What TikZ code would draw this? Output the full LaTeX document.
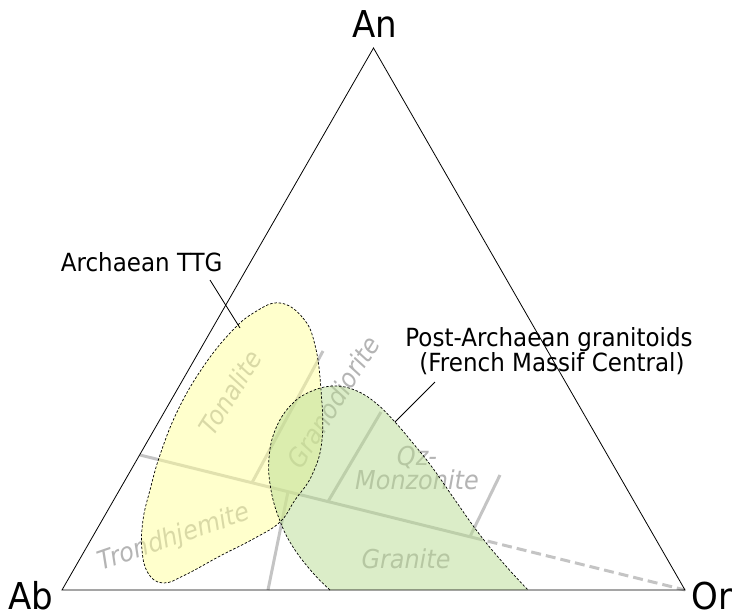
\documentclass[tikz,border=0pt]{standalone}
\usepackage{fontspec}
\setmainfont{DejaVu Sans}[FakeStretch=0.92]
\definecolor{fieldgray}{HTML}{C4C4C4}
\definecolor{labelgray}{HTML}{B4B4B4}
\definecolor{ttgyellow}{HTML}{FFFF99}
\definecolor{postgreen}{HTML}{B8DB92}
\begin{document}
\begin{tikzpicture}[x=1pt,y=-1pt,
  apex/.style={font=\fontsize{37}{37}\selectfont, anchor=base, inner sep=0pt},
  callout/.style={font=\fontsize{25}{25}\selectfont, align=center, inner sep=0pt},
  field/.style={draw=fieldgray, line width=3pt},
  fieldlabel/.style={text=labelgray, font=\fontsize{26}{23.5}\selectfont\itshape, inner sep=0pt, align=center},
  blobfill/.style={fill=#1, fill opacity=0.5, draw=none},
  blobedge/.style={draw=black, line width=0.7pt, dash pattern=on 2.5pt off 1.8pt},
  leader/.style={draw=black, line width=0.8pt}]
\useasboundingbox (0,0) rectangle (734,614);

% ternary corners
\coordinate (Ab) at (62,590);
\coordinate (Or) at (685,590);
\coordinate (An) at (373.5,48);

% field boundaries
\coordinate (L0) at (140,455);
\coordinate (L1) at (473,537.5);
\coordinate (T0) at (252,482.7);
\coordinate (T1) at (323,351);
\coordinate (B0) at (268,590);
\coordinate (B1) at (288,491.7);
\coordinate (G0) at (328,501.6);
\coordinate (G1) at (381,412);
\coordinate (Q0) at (470,536.7);
\coordinate (Q1) at (500,475);

\draw[field] (L0) -- (L1);
\draw[field, dash pattern=on 10pt off 5pt] (L1) -- (Or);
\draw[field] (T0) -- (T1);
\draw[field] (B0) -- (B1);
\draw[field] (G0) -- (G1);
\draw[field] (Q0) -- (Q1);

% field names
\node[fieldlabel, rotate=58] (tonalite) at (230,393) {Tonalite};
\node[fieldlabel, rotate=58] (granodiorite) at (333,402) {Granodiorite};
\node[fieldlabel, rotate=19] (trondhjemite) at (174,538) {Trondhjemite};
\node[fieldlabel] (qzmonzonite) at (417,468) {Qz-\\Monzonite};
\node[fieldlabel, anchor=base] (granite) at (406,568.5) {Granite};

% Archaean TTG field
\fill[blobfill=ttgyellow] plot[smooth cycle, tension=0.7] coordinates {
  (280,303) (303,318) (315,345) (321,390) (322,440) (312,475) (295,500)
  (280,522) (255,538) (220,556) (185,575) (163,583) (148,573) (142,550)
  (143,520) (150,490) (160,455) (177,412) (201,370) (230,333) (255,312)};
% post-Archaean granitoid field
\fill[blobfill=postgreen] plot[smooth, tension=0.7] coordinates {
  (330,590) (313,573) (293,547) (280,521) (271,490) (269,458) (276,428)
  (292,404) (312,391) (335,386) (357,391) (377,404) (395,422) (412,442)
  (432,467) (455,500) (480,535) (505,565) (528,590)} -- cycle;

\draw[blobedge] plot[smooth cycle, tension=0.7] coordinates {
  (280,303) (303,318) (315,345) (321,390) (322,440) (312,475) (295,500)
  (280,522) (255,538) (220,556) (185,575) (163,583) (148,573) (142,550)
  (143,520) (150,490) (160,455) (177,412) (201,370) (230,333) (255,312)};
\draw[blobedge] plot[smooth, tension=0.7] coordinates {
  (330,590) (313,573) (293,547) (280,521) (271,490) (269,458) (276,428)
  (292,404) (312,391) (335,386) (357,391) (377,404) (395,422) (412,442)
  (432,467) (455,500) (480,535) (505,565) (528,590)};

% triangle
\draw[black, line width=0.8pt] (Ab) -- (Or) -- (An) -- cycle;

% corner labels
\node[apex] (abl) at (31,609.5) {Ab};
\node[apex] (orl) at (712,609.5) {Or};
\node[apex] (anl) at (374.5,37.3) {An};

% callouts
\node[callout, anchor=base] (ttg) at (141.7,271) {Archaean TTG};
\coordinate (ttgA) at (210,280);
\coordinate (ttgB) at (240,328);
\draw[leader] (ttgA) -- (ttgB);

\node[callout, anchor=base] (post1) at (549,346.7) {Post-Archaean granitoids};
\node[callout, anchor=base] (post2) at (552,371.7) {(French Massif Central)};
\coordinate (postA) at (435,382);
\coordinate (postB) at (395,422);
\draw[leader] (postA) -- (postB);
\end{tikzpicture}
\end{document}
